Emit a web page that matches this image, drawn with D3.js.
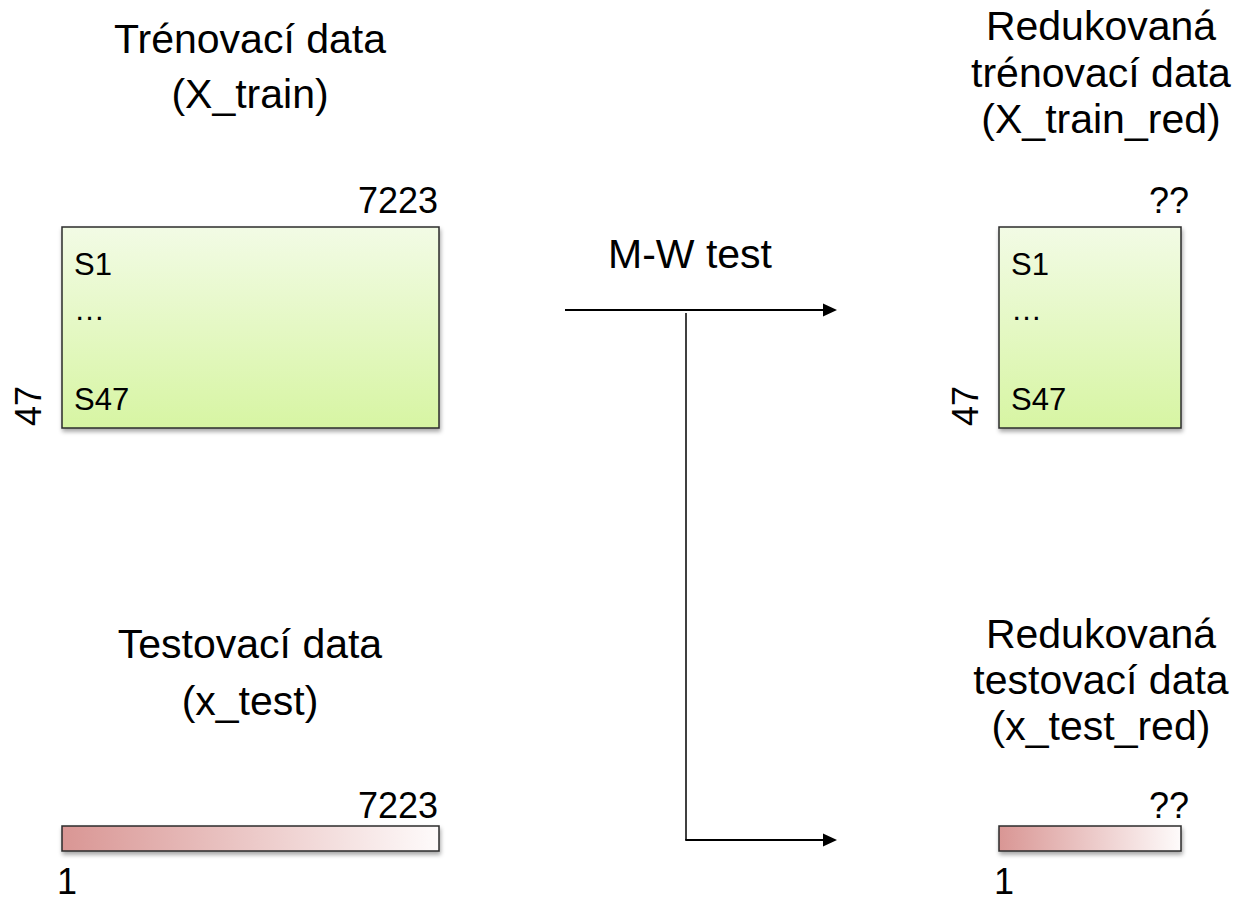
<!DOCTYPE html>
<html>
<head>
<meta charset="utf-8">
<script src="https://cdn.jsdelivr.net/npm/d3@7"></script>
<style>
  body { margin: 0; background: #fff; }
  text { font-family: "Liberation Sans", Arial, sans-serif; fill: #000; }
</style>
</head>
<body>
<div id="diagram"></div>
<script>
// Texts and sizes of the data sets
var trainTitle = ["Trénovací data", "(X_train)"];
var trainRedTitle = ["Redukovaná", "trénovací data", "(X_train_red)"];
var testTitle = ["Testovací data", "(x_test)"];
var testRedTitle = ["Redukovaná", "testovací data", "(x_test_red)"];
var rowLabels = ["S1", "…", "S47"];
var nSamples = ["47", "47"];
var nFeatures = ["7223", "??"];
var nTestRows = ["1", "1"];
var methodLabel = "M-W test";

var svgWidth = 1239;
var svgHeight = 902;

var svg = d3.select("#diagram")
  .append("svg")
    .attr("width", svgWidth)
    .attr("height", svgHeight);

var defs = svg.append("defs");

// green fill for the training matrices (top to bottom)
var green = defs.append("linearGradient")
  .attr("id", "green")
  .attr("x1", 0).attr("y1", 0).attr("x2", 0).attr("y2", 1);
green.append("stop").attr("offset", "0%").attr("stop-color", "#f2fbe5");
green.append("stop").attr("offset", "100%").attr("stop-color", "#d7f5a3");

// red fill for the test vectors (left to right)
var red = defs.append("linearGradient")
  .attr("id", "red")
  .attr("x1", 0).attr("y1", 0).attr("x2", 1).attr("y2", 0);
red.append("stop").attr("offset", "0%").attr("stop-color", "#d99694");
red.append("stop").attr("offset", "100%").attr("stop-color", "#fefbfb");

var shadow = defs.append("filter")
  .attr("id", "shadow")
  .attr("x", "-10%").attr("y", "-10%")
  .attr("width", "130%").attr("height", "140%");
shadow.append("feDropShadow")
  .attr("dx", 1).attr("dy", 3)
  .attr("stdDeviation", 2)
  .attr("flood-color", "#000")
  .attr("flood-opacity", 0.35);

// columns: original data on the left, reduced data on the right
var cols = ["orig", "red"];
var x = d3.scaleOrdinal().domain(cols).range([62, 999]);
var boxWidth = d3.scaleOrdinal().domain(cols).range([377, 182]);
var titleX = d3.scaleOrdinal().domain(cols).range([250, 1101]);

// titles, one text element per line
function title(lines, col, y0, step) {
  svg.append("g").selectAll("text")
    .data(lines)
    .enter()
    .append("text")
    .attr("x", titleX(col))
    .attr("y", function(d, i) { return y0 + i * step; })
    .attr("text-anchor", "middle")
    .style("font-size", "41px")
    .text(function(d) { return d; });
}
title(trainTitle, "orig", 53, 55);
title(trainRedTitle, "red", 40, 46.5);
title(testTitle, "orig", 658, 57);
title(testRedTitle, "red", 648, 46);

// training matrices
var boxTop = 227, boxBottom = 428;
svg.selectAll("rect.train")
  .data(cols)
  .enter()
  .append("rect")
  .classed("train", true)
  .attr("x", function(d) { return x(d); })
  .attr("y", boxTop)
  .attr("width", function(d) { return boxWidth(d); })
  .attr("height", boxBottom - boxTop)
  .attr("fill", "url(#green)")
  .attr("stroke", "#2b2b2b")
  .attr("stroke-width", 1.5)
  .attr("filter", "url(#shadow)");

// sample labels inside the boxes
var rowY = d3.scaleOrdinal().domain(rowLabels).range([275, 320, 410]);
cols.forEach(function(col) {
  svg.append("g").selectAll("text")
    .data(rowLabels)
    .enter()
    .append("text")
    .attr("x", x(col) + 12)
    .attr("y", function(d) { return rowY(d); })
    .style("font-size", "31px")
    .text(function(d) { return d; });
});

// number of features above the right corner
svg.selectAll("text.feat")
  .data(cols)
  .enter()
  .append("text")
  .classed("feat", true)
  .attr("x", function(d) { return x(d) + boxWidth(d) + (d == "red" ? 8 : -1); })
  .attr("y", 213)
  .attr("text-anchor", "end")
  .style("font-size", "36px")
  .text(function(d, i) { return nFeatures[i]; });

// number of samples, rotated, at the left bottom corner
svg.selectAll("text.samples")
  .data(cols)
  .enter()
  .append("text")
  .classed("samples", true)
  .attr("transform", function(d) {
    return "translate(" + (x(d) - 21) + "," + (boxBottom - 2) + ") rotate(-90)";
  })
  .style("font-size", "36px")
  .text(function(d, i) { return nSamples[i]; });

// test vectors
var barTop = 826, barBottom = 851;
svg.selectAll("rect.test")
  .data(cols)
  .enter()
  .append("rect")
  .classed("test", true)
  .attr("x", function(d) { return x(d); })
  .attr("y", barTop)
  .attr("width", function(d) { return boxWidth(d); })
  .attr("height", barBottom - barTop)
  .attr("fill", "url(#red)")
  .attr("stroke", "#2b2b2b")
  .attr("stroke-width", 1.5)
  .attr("filter", "url(#shadow)");

svg.selectAll("text.featTest")
  .data(cols)
  .enter()
  .append("text")
  .classed("featTest", true)
  .attr("x", function(d) { return x(d) + boxWidth(d) + (d == "red" ? 8 : -1); })
  .attr("y", 818)
  .attr("text-anchor", "end")
  .style("font-size", "36px")
  .text(function(d, i) { return nFeatures[i]; });

svg.selectAll("text.rows")
  .data(cols)
  .enter()
  .append("text")
  .classed("rows", true)
  .attr("x", function(d) { return x(d) - 5; })
  .attr("y", 894)
  .style("font-size", "36px")
  .text(function(d, i) { return nTestRows[i]; });

// arrows from the M-W test
var arrowStart = 565, arrowEnd = 837, branchX = 686;
var topArrowY = 310, bottomArrowY = 840;

svg.append("text")
  .attr("x", 690)
  .attr("y", 268)
  .attr("text-anchor", "middle")
  .style("font-size", "41px")
  .text(methodLabel);

svg.append("line")
  .attr("x1", arrowStart).attr("y1", topArrowY)
  .attr("x2", arrowEnd - 12).attr("y2", topArrowY)
  .attr("stroke", "#000").attr("stroke-width", 2);

svg.append("line")
  .attr("x1", branchX).attr("y1", topArrowY + 3)
  .attr("x2", branchX).attr("y2", bottomArrowY)
  .attr("stroke", "#000").attr("stroke-width", 1.5);

svg.append("line")
  .attr("x1", branchX - 0.75).attr("y1", bottomArrowY)
  .attr("x2", arrowEnd - 12).attr("y2", bottomArrowY)
  .attr("stroke", "#000").attr("stroke-width", 2);

svg.selectAll("path.head")
  .data([topArrowY, bottomArrowY])
  .enter()
  .append("path")
  .classed("head", true)
  .attr("d", function(y) {
    return "M" + (arrowEnd - 14) + "," + (y - 6.5) + " L" + arrowEnd + "," + y + " L" + (arrowEnd - 14) + "," + (y + 6.5) + " Z";
  })
  .attr("fill", "#000");
</script>
</body>
</html>
